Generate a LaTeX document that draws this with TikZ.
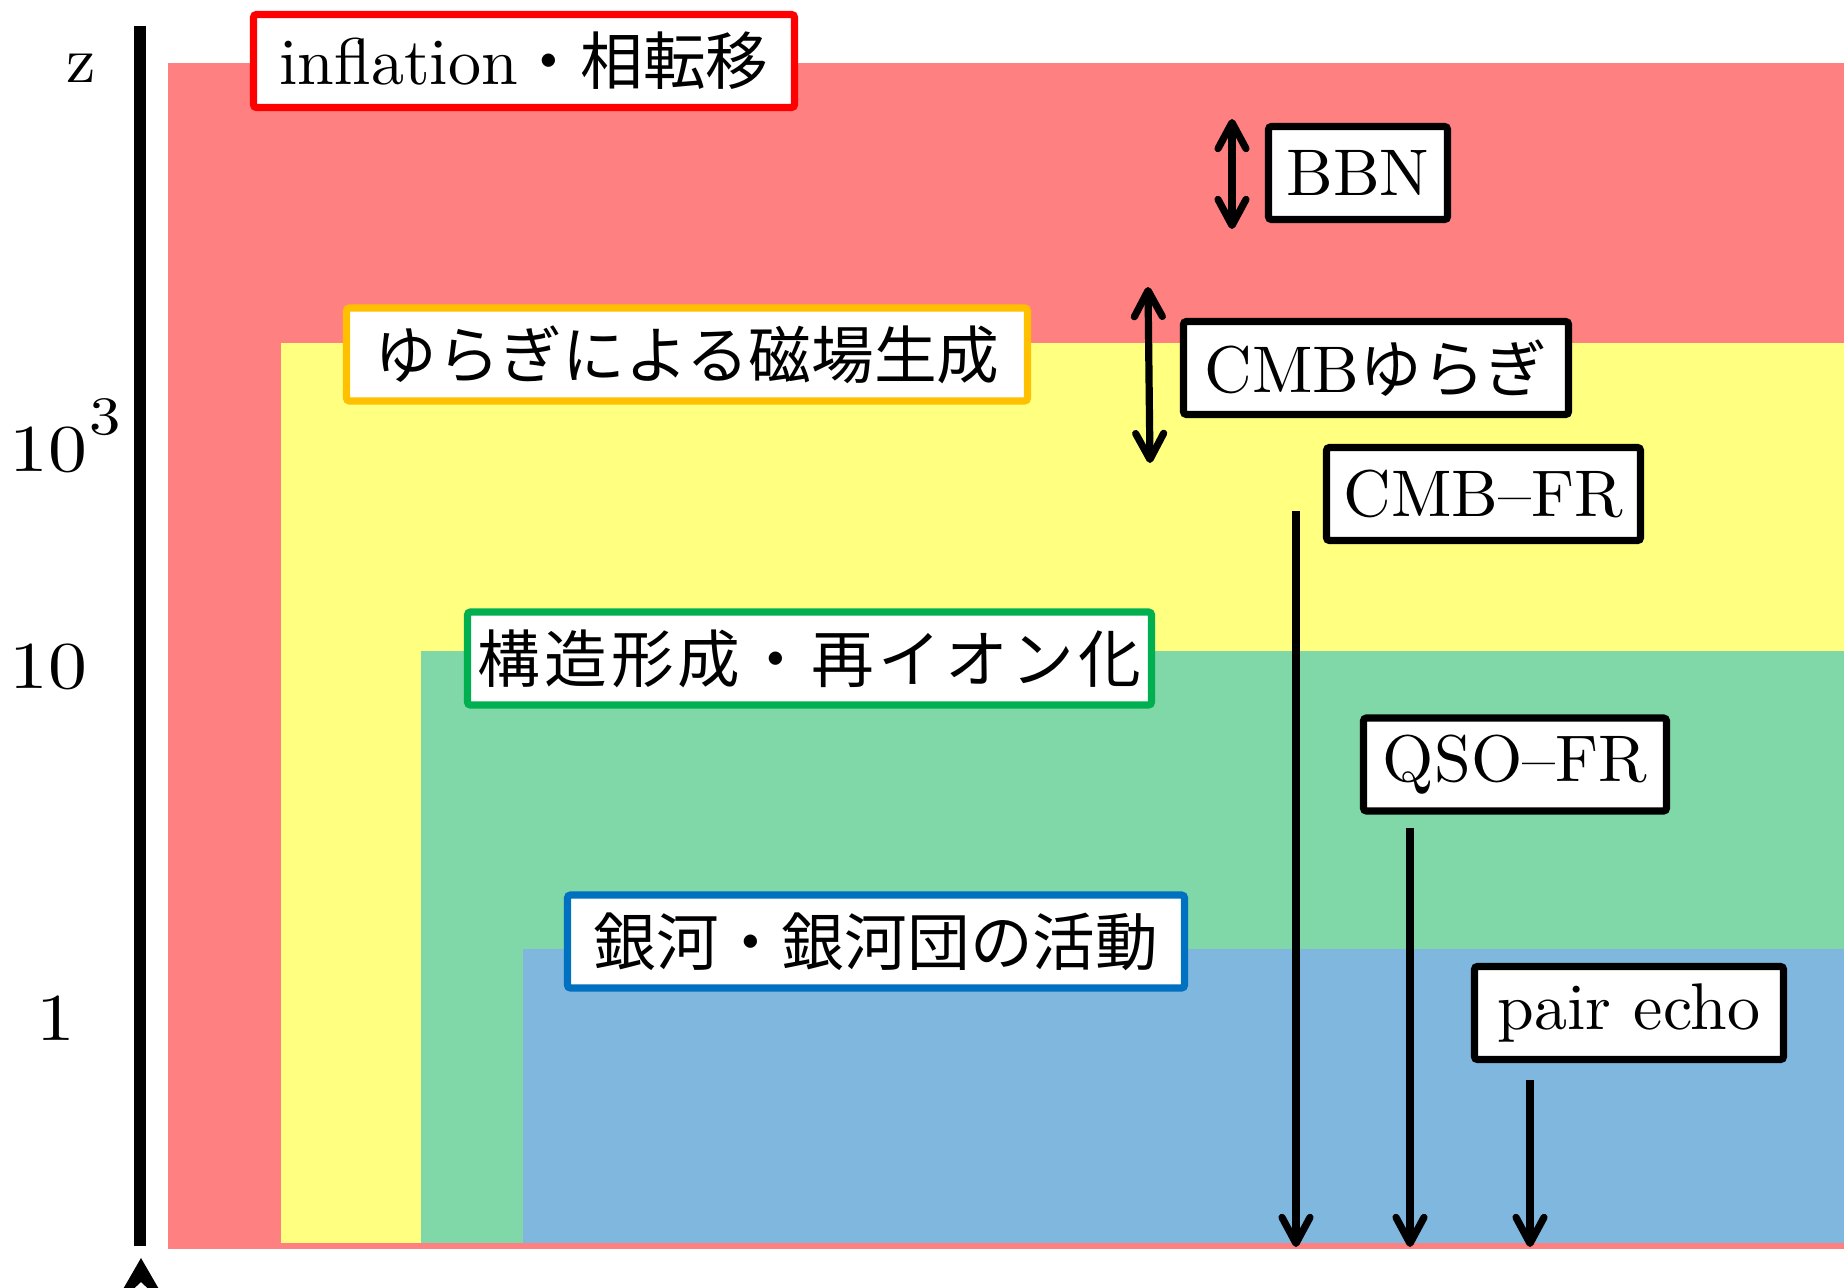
\documentclass[tikz,border=0pt]{standalone}
\usepackage{fontspec}
\usepackage{graphicx}
\usetikzlibrary{arrows.meta}
\setmainfont{lmroman10-regular.otf}
\newfontfamily\jp[Scale=0.95]{Noto Sans CJK JP}
\newfontfamily\jpw[Scale=0.95,LetterSpace=6.5]{Noto Sans CJK JP}
\definecolor{bgred}{HTML}{FF8080}
\definecolor{bgyellow}{HTML}{FFFF80}
\definecolor{bggreen}{HTML}{80D8A8}
\definecolor{bgblue}{HTML}{80B7DF}
\definecolor{bred}{HTML}{FF0000}
\definecolor{borange}{HTML}{FFC000}
\definecolor{bgreen}{HTML}{00B050}
\definecolor{bblue}{HTML}{0070C0}
\begin{document}
\begin{tikzpicture}[x=0.5pt,y=-0.5pt,
  lbl/.style={inner sep=0pt, anchor=base west, font=\fontsize{33.5}{40}\selectfont},
  tag/.style={draw, line width=3.6pt, fill=white, rounded corners=1.5pt, inner sep=0pt,
    minimum height=46.5pt, font=\fontsize{33}{40}\selectfont},
  tip/.tip={Straight Barb[length=13pt,width=14pt,round]},
  meas/.style={line width=3.6pt, -tip},
  meas2/.style={line width=3.6pt, tip-tip},
]
\clip (0,0) rectangle (1844,1287);
% bands
\fill[bgred] (168,63) rectangle (1844,1249);
\fill[bgyellow] (281,343) rectangle (1844,1243);
\fill[bggreen] (421,651) rectangle (1844,1243);
\fill[bgblue] (523,949) rectangle (1844,1243);
% axis
\coordinate (axtop) at (140,26);
\coordinate (axbot) at (140,1246);
\draw[line width=6pt] (axtop) -- (axbot);
\fill (141,1258) -- (171,1310) -- (141,1282) -- (111,1310) -- cycle;
% axis labels
\node[lbl, font=\fontsize{33}{40}\selectfont] (lz) at (66,82) {z};
\node[lbl] (l3) at (9,471) {\scalebox{1.16}[1]{10\kern1.2pt\raisebox{18.5pt}{\fontsize{27}{30}\selectfont 3}}};
\node[lbl] (l10) at (9,688) {\scalebox{1.16}[1]{10}};
\node[lbl] (l1) at (36,1040) {\scalebox{1.16}[1]{1}};
% boxes
\node[tag, minimum width=270.5pt, draw=bred] (infl) at (524,61) {inflation{\jp ・相転移}};
\node[tag, minimum width=89.5pt] (bbn) at (1358,173) {BBN};
\node[tag, minimum width=340.5pt, draw=borange] (yur) at (687,354.5) {\jp ゆらぎによる磁場生成};
\node[tag, minimum width=192.5pt] (cmbf) at (1376,368) {CMB{\jp ゆらぎ}};
\node[tag, minimum width=157pt] (cmbfr) at (1483.5,494) {CMB--FR};
\node[tag, minimum width=342pt, draw=bgreen] (str) at (809.5,658.5) {\jpw 構造形成・再イオン化};
\node[tag, minimum width=151.5pt] (qso) at (1515,764.5) {QSO--FR};
\node[tag, minimum width=308.5pt, draw=bblue] (gal) at (876,941.5) {\jp 銀河・銀河団の活動};
\node[tag, minimum width=154.5pt] (pair) at (1629,1013) {pair echo};
% arrows
\coordinate (bbnA) at (1232,119);
\coordinate (bbnB) at (1232,229);
\coordinate (cmbA) at (1148,287);
\coordinate (cmbB) at (1150,463);
\coordinate (frA) at (1296,511);
\coordinate (frB) at (1296,1247);
\coordinate (qA) at (1410,828);
\coordinate (qB) at (1410,1247);
\coordinate (pA) at (1530,1080);
\coordinate (pB) at (1530,1247);
\draw[meas2] (bbnA) -- (bbnB);
\draw[meas2] (cmbA) -- (cmbB);
\draw[meas] (frA) -- (frB);
\draw[meas] (qA) -- (qB);
\draw[meas] (pA) -- (pB);
\end{tikzpicture}
\end{document}
